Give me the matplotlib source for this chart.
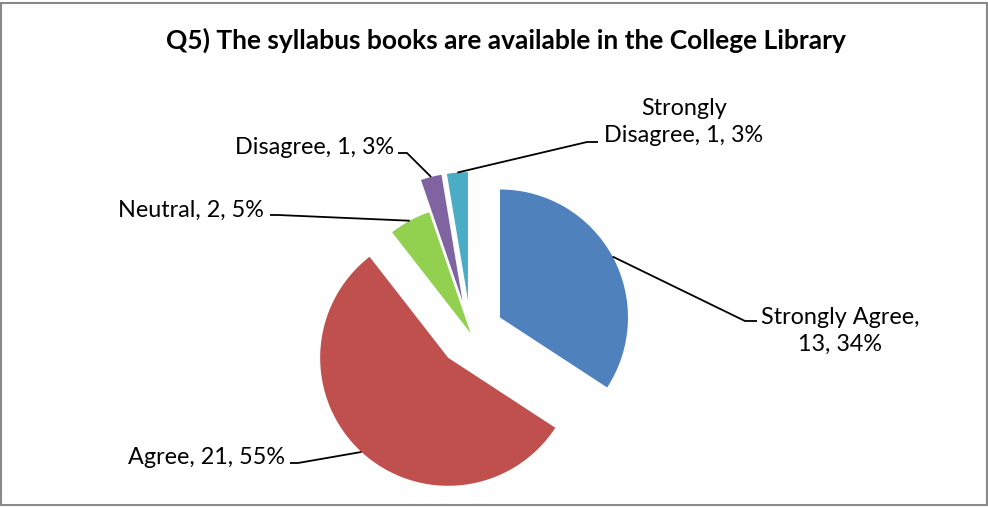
import math
import matplotlib
matplotlib.use("Agg")
import matplotlib.pyplot as plt
from matplotlib.patches import Rectangle

# ---- data ----
categories = ["Strongly Agree", "Agree", "Neutral", "Disagree", "Strongly Disagree"]
counts = [13, 21, 2, 1, 1]
explode = [0.26, 0.26, 0.0, 0.26, 0.26]
colors = ["#4F81BD", "#C0504D", "#92D050", "#8064A2", "#4BACC6"]
title = "Q5) The syllabus books are available in the College Library"

W, H = 988, 507
S = 128.0  # pixels per data unit (pie radius)

plt.rcParams['font.family'] = ['Lato', 'DejaVu Sans']

fig = plt.figure(figsize=(W / 100, H / 100), dpi=100)
ax = fig.add_axes([0, 0, 1, 1])


def P(xi, yi):
    """image pixel coords -> data coords"""
    return xi / S, (H - yi) / S


cx, cy = P(470.7, 333.3)
wedges, _ = ax.pie(counts, explode=explode, colors=colors, startangle=90,
                   counterclock=False, radius=1.0, center=(cx, cy),
                   wedgeprops=dict(linewidth=0))
ax.set_xlim(0, W / S)
ax.set_ylim(0, H / S)
ax.set_aspect('auto')
ax.axis('off')

total = sum(counts)
pcts = [round(100 * c / total) for c in counts]

# label layout: (text x, text y, ha, elbow point, end point) in image pixels
layout = [
    dict(pos=(840, 331), ha='center', elbow=(745, 321), end=(757, 321),
         text=f"{categories[0]},\n{counts[0]}, {pcts[0]}%"),
    dict(pos=(285, 458), ha='right', elbow=(298, 463), end=(290, 463),
         text=f"{categories[1]}, {counts[1]}, {pcts[1]}%"),
    dict(pos=(264, 210), ha='right', elbow=(278, 215), end=(270, 215),
         text=f"{categories[2]}, {counts[2]}, {pcts[2]}%"),
    dict(pos=(394, 148), ha='right', elbow=(407, 153), end=(398, 153),
         text=f"{categories[3]}, {counts[3]}, {pcts[3]}%"),
    dict(pos=(684, 122), ha='center', elbow=(587, 142), end=(598, 142),
         text="Strongly\nDisagree, " + f"{counts[4]}, {pcts[4]}%"),
]

for w, lay in zip(wedges, layout):
    tm = math.radians((w.theta1 + w.theta2) / 2)
    ax_x = w.center[0] + w.r * math.cos(tm)
    ax_y = w.center[1] + w.r * math.sin(tm)
    ex, ey = P(*lay['elbow'])
    nx, ny = P(*lay['end'])
    ax.plot([ax_x, ex, nx], [ax_y, ey, ny], color='black', lw=1.3,
            solid_capstyle='butt', solid_joinstyle='miter')
    tx, ty = P(*lay['pos'])
    ax.text(tx, ty, lay['text'], ha=lay['ha'], va='center', fontsize=16.8,
            color='black', multialignment='center', linespacing=1.3)

fig.text(505.5 / W, 1 - 40 / H, title, ha='center', va='center',
         fontsize=19, fontweight='bold', color='black')

fig.patches.append(Rectangle((1 / W, 2.5 / H), 985.5 / W, 501.5 / H,
                             transform=fig.transFigure, fill=False,
                             edgecolor='#898989', linewidth=1.5))

fig.savefig("out.png", dpi=100)
